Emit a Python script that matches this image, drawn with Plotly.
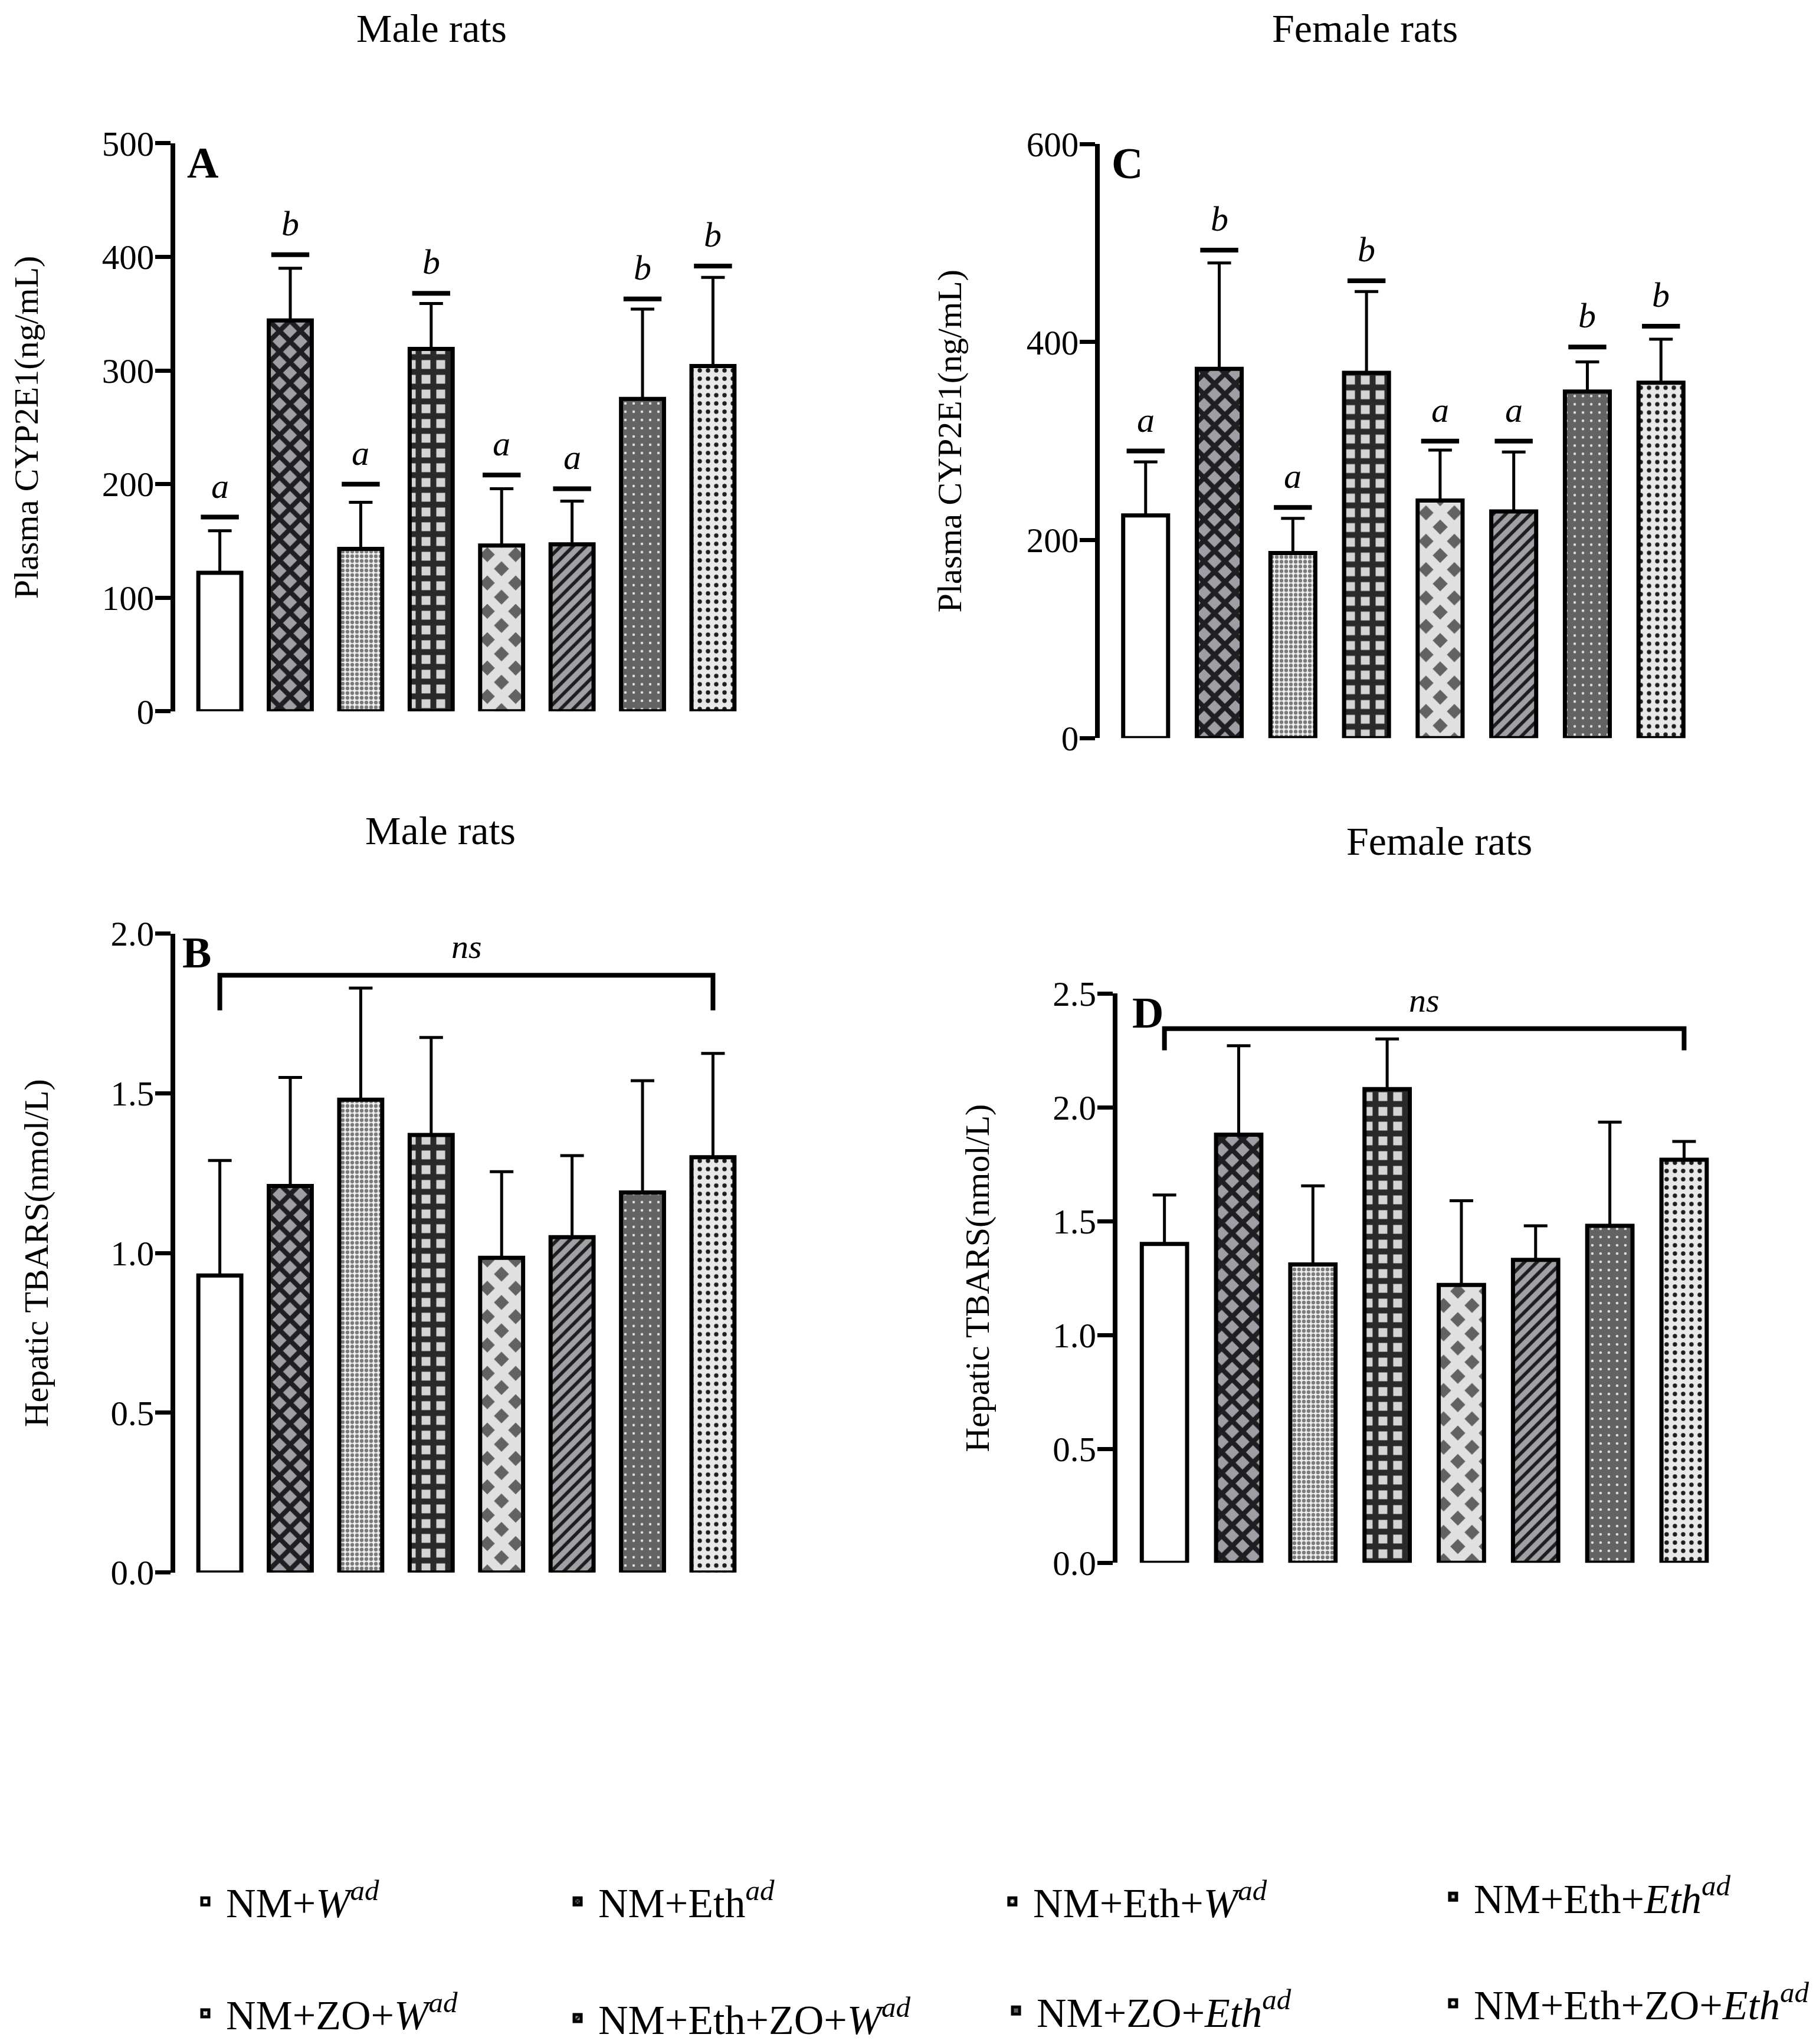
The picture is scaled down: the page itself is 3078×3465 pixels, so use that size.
import plotly.graph_objects as go

# group names (legend order = bar order)
groups = [
    "NM+<i>W</i><sup><i>ad</i></sup>",
    "NM+Eth<sup><i>ad</i></sup>",
    "NM+Eth+<i>W</i><sup><i>ad</i></sup>",
    "NM+Eth+<i>Eth</i><sup><i>ad</i></sup>",
    "NM+ZO+<i>W</i><sup><i>ad</i></sup>",
    "NM+Eth+ZO+<i>W</i><sup><i>ad</i></sup>",
    "NM+ZO+<i>Eth</i><sup><i>ad</i></sup>",
    "NM+Eth+ZO+<i>Eth</i><sup><i>ad</i></sup>",
]
sig_letters = ["a", "b", "a", "b", "a", "a", "b", "b"]

# A: male plasma CYP2E1 (ng/mL)
male_cyp = [122, 344, 143, 319, 146, 147, 275, 304]
male_cyp_sd = [37, 46, 41, 40, 50, 38, 79, 78]
male_cyp_sig = [171, 402, 200, 368, 208, 196, 363, 392]

# C: female plasma CYP2E1 (ng/mL)
female_cyp = [225, 373, 187, 369, 240, 229, 350, 359]
female_cyp_sd = [54, 107, 35, 82, 51, 60, 30, 44]
female_cyp_sig = [290, 493, 233, 462, 300, 300, 395, 416]

# B: male hepatic TBARS (nmol/L)
male_tbars = [0.93, 1.21, 1.48, 1.37, 0.985, 1.05, 1.19, 1.30]
male_tbars_sd = [0.36, 0.34, 0.35, 0.305, 0.27, 0.255, 0.35, 0.325]
male_ns_y = [1.76, 1.87, 1.87, 1.76]

# D: female hepatic TBARS (nmol/L)
female_tbars = [1.40, 1.88, 1.31, 2.08, 1.22, 1.33, 1.48, 1.77]
female_tbars_sd = [0.215, 0.39, 0.345, 0.22, 0.37, 0.15, 0.455, 0.08]
female_ns_y = [2.25, 2.345, 2.345, 2.25]

FONT = "Liberation Serif"

# fill styles: (background, pattern shape, foreground, tile size, solidity)
styles = [
    ("white", "", "black", 10, 0.5),
    ("#9e9ea4", "x", "#1f1f23", 25, 0.55),
    ("#f2f2f2", ".", "#7a7a7a", 8, 0.5),
    ("#d4d4d4", "+", "#2a2a2a", 25, 0.64),
    ("#626262", "x", "#e0e0e0", 34, 0.72),
    ("#a0a0a6", "/", "#1e1e1e", 15, 0.38),
    ("#636363", ".", "#e0e0e0", 14, 0.08),
    ("#e8e8e8", ".", "#1e1e1e", 14, 0.22),
]

# legend entry placement (paper coords): 2 rows x 4 columns
legend_x = [0.0991, 0.3041, 0.5435, 0.7862, 0.0991, 0.3041, 0.5455, 0.7862]
legend_y = [0.0721, 0.0721, 0.0721, 0.0744, 0.0173, 0.0150, 0.0187, 0.0222]

panels = [
    dict(ax="", vals=male_cyp, sd=male_cyp_sd, sig=male_cyp_sig, ns=None,
         xdom=[0.0939, 0.4094], xr=[-0.633, 7.5], ydom=[0.6543, 0.9322], yr=[0, 500],
         dtick=100, fmt="d", ytitle="Plasma CYP2E1(ng/mL)", standoff=92,
         title="Male rats", tpos=(0.2352, 1.0), letter="A", lx=0.018),
    dict(ax="2", vals=female_cyp, sd=female_cyp_sd, sig=female_cyp_sig, ns=None,
         xdom=[0.6030, 0.9323], xr=[-0.623, 7.5], ydom=[0.6412, 0.9318], yr=[0, 600],
         dtick=200, fmt="d", ytitle="Plasma CYP2E1(ng/mL)", standoff=94,
         title="Female rats", tpos=(0.7490, 1.0), letter="C", lx=0.018),
    dict(ax="3", vals=male_tbars, sd=male_tbars_sd, sig=None, ns=male_ns_y,
         xdom=[0.0939, 0.4094], xr=[-0.633, 7.5], ydom=[0.2330, 0.5455], yr=[0, 2.0],
         dtick=0.5, fmt=".1f", ytitle="Hepatic TBARS(nmol/L)", standoff=90,
         title="Male rats", tpos=(0.2400, 0.6075), letter="B", lx=0.01),
    dict(ax="4", vals=female_tbars, sd=female_tbars_sd, sig=None, ns=female_ns_y,
         xdom=[0.6127, 0.9452], xr=[-0.634, 7.5], ydom=[0.2377, 0.5163], yr=[0, 2.5],
         dtick=0.5, fmt=".1f", ytitle="Hepatic TBARS(nmol/L)", standoff=92,
         title="Female rats", tpos=(0.7900, 0.6023), letter="D", lx=0.023),
]

fig = go.Figure()
layout = {}
annotations = []

for p_i, p in enumerate(panels):
    xa, ya = "x" + p["ax"], "y" + p["ax"]
    for i, name in enumerate(groups):
        bg, shape, fg, size, sol = styles[i]
        fig.add_trace(go.Bar(
            x=[i], y=[p["vals"][i]], width=0.61, name=name,
            xaxis=xa, yaxis=ya,
            marker=dict(color=bg, line=dict(color="black", width=7),
                        pattern=dict(shape=shape, fgcolor=fg, bgcolor=bg, size=size,
                                     solidity=sol, fillmode="replace")),
            error_y=dict(type="data", symmetric=False, array=[p["sd"][i]], arrayminus=[0],
                         color="black", thickness=5, width=20),
            showlegend=(p_i == 0), legendgroup=str(i),
            legend="legend" if i == 0 else "legend%d" % (i + 1),
        ))
    if p["sig"] is not None:
        fig.add_trace(go.Scatter(
            x=list(range(len(groups))), y=p["sig"], xaxis=xa, yaxis=ya, mode="markers",
            marker=dict(symbol="line-ew", size=46, line=dict(color="black", width=8)),
            showlegend=False, cliponaxis=False, hoverinfo="skip",
        ))
        for i, (lab, yv) in enumerate(zip(sig_letters, p["sig"])):
            annotations.append(dict(
                x=i, y=yv, xref=xa, yref=ya, text="<i>%s</i>" % lab, showarrow=False,
                yanchor="bottom", yshift=18, font=dict(family=FONT, size=60, color="black"),
            ))
    if p["ns"] is not None:
        last = len(groups) - 1
        fig.add_trace(go.Scatter(
            x=[0, 0, last, last], y=p["ns"], xaxis=xa, yaxis=ya, mode="lines",
            line=dict(color="black", width=8), showlegend=False, cliponaxis=False,
            hoverinfo="skip",
        ))
        annotations.append(dict(
            x=last / 2, y=p["ns"][1], xref=xa, yref=ya, text="<i>ns</i>",
            showarrow=False, yanchor="bottom", yshift=14,
            font=dict(family=FONT, size=58, color="black"),
        ))
    key = p["ax"]
    layout["xaxis" + key] = dict(domain=p["xdom"], range=p["xr"], visible=False,
                                 anchor=ya, fixedrange=True)
    layout["yaxis" + key] = dict(
        domain=p["ydom"], range=p["yr"], anchor=xa, dtick=p["dtick"], tick0=0,
        tickformat=p["fmt"], showgrid=False, zeroline=False, showline=True,
        linecolor="black", linewidth=8, ticks="outside", ticklen=26, tickwidth=7,
        tickcolor="black", ticklabelstandoff=-10,
        tickfont=dict(family=FONT, size=59, color="black"),
        title=dict(text=p["ytitle"], standoff=p["standoff"],
                   font=dict(family=FONT, size=58, color="black")),
    )
    annotations.append(dict(
        x=p["tpos"][0], y=p["tpos"][1], xref="paper", yref="paper", text=p["title"],
        showarrow=False, xanchor="center", yanchor="top",
        font=dict(family=FONT, size=68, color="black"),
    ))
    annotations.append(dict(
        x=p["lx"], y=1.01, xref=xa + " domain", yref=ya + " domain",
        text="<b>%s</b>" % p["letter"], showarrow=False, xanchor="left", yanchor="top",
        font=dict(family=FONT, size=74, color="black"),
    ))

for i in range(len(groups)):
    key = "legend" if i == 0 else "legend%d" % (i + 1)
    layout[key] = dict(
        x=legend_x[i], y=legend_y[i], xanchor="left", yanchor="middle",
        bgcolor="rgba(0,0,0,0)", itemwidth=60,
        font=dict(family=FONT, size=70, color="black"),
    )

fig.update_layout(
    width=3078, height=3465,
    paper_bgcolor="white", plot_bgcolor="white",
    margin=dict(l=0, r=0, t=0, b=0, autoexpand=False),
    barmode="overlay",
    annotations=annotations,
    **layout,
)

fig.write_html("out.html")
